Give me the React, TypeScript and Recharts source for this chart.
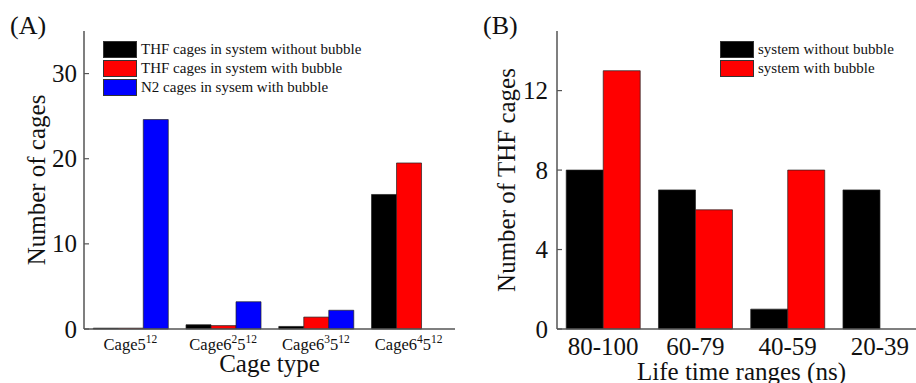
import React from "react";
import { BarChart, Bar, XAxis, YAxis, Legend } from "recharts";

// Panel A: cage types ("^{..}" marks a superscript)
const cageTypes = ["Cage5^{12}", "Cage6^{2}5^{12}", "Cage6^{3}5^{12}", "Cage6^{4}5^{12}"];
const cageSeries = ["THF cages in system without bubble", "THF cages in system with bubble", "N2 cages in sysem with bubble"];
const thfWithout = [0.1, 0.5, 0.3, 15.8];
const thfWith = [0.1, 0.4, 1.4, 19.5];
const n2With = [24.6, 3.2, 2.2, 0];
const cageTicks = [0, 10, 20, 30];

// Panel B: life time ranges
const lifeRanges = ["80-100", "60-79", "40-59", "20-39"];
const lifeSeries = ["system without bubble", "system with bubble"];
const lifeWithout = [8, 7, 1, 7];
const lifeWith = [13, 6, 8, 0];
const lifeTicks = [0, 4, 8, 12];

const SERIF = "'Liberation Serif', 'Times New Roman', serif";
const AXIS = "#555";
const INK = "#111";

const cageData = cageTypes.map((name, i) => ({
  name,
  thfWithout: thfWithout[i],
  thfWith: thfWith[i],
  n2With: n2With[i],
}));

const lifeData = lifeRanges.map((name, i) => ({
  name,
  without: lifeWithout[i],
  with: lifeWith[i],
}));

/** y tick: number left of the axis plus a short inward tick mark */
const makeYTick = (fontSize: number, margin: number) => (props: any) => {
  const { x, y, payload } = props;
  const ax = x + margin;
  return (
    <g>
      <line x1={ax} x2={ax + 5} y1={y} y2={y} stroke={AXIS} strokeWidth={1.2} />
      <text x={x} y={y} textAnchor="end" dominantBaseline="central" fontSize={fontSize} fontFamily={SERIF} fill={INK}>
        {payload.value}
      </text>
    </g>
  );
};

/** cage name with superscripts, e.g. Cage6^{2}5^{12} */
function CageTick(props: any) {
  const { x, y, payload } = props;
  const parts: string[] = String(payload.value).split(/(\^\{\d+\})/).filter(Boolean);
  let raised = false;
  return (
    <text x={x} y={y + 21} textAnchor="middle" fontSize={16.5} fontFamily={SERIF} fill={INK}>
      {parts.map((p, i) => {
        if (p.startsWith("^")) {
          raised = true;
          return (
            <tspan key={i} fontSize={11.5} dy={-7}>
              {p.slice(2, -1)}
            </tspan>
          );
        }
        const dy = raised ? 7 : 0;
        raised = false;
        return (
          <tspan key={i} dy={dy}>
            {p}
          </tspan>
        );
      })}
    </text>
  );
}

function RangeTick(props: any) {
  const { x, y, payload } = props;
  return (
    <text x={x} y={y + 26} textAnchor="middle" fontSize={25} fontFamily={SERIF} fill={INK}>
      {payload.value}
    </text>
  );
}

const yLabel = (text: string, dx: number) => (props: any) => {
  const { x, y, height } = props.viewBox;
  const cx = x + dx;
  const cy = y + height / 2;
  return (
    <text
      x={cx}
      y={cy}
      transform={`rotate(-90 ${cx} ${cy})`}
      textAnchor="middle"
      dominantBaseline="central"
      fontSize={25}
      fontFamily={SERIF}
      fill={INK}
    >
      {text}
    </text>
  );
};

// legend keeps the series order, not recharts' alphabetical one
const makeLegend = (order: string[]) => (props: any) => {
  const payload = [...(props.payload || [])].sort(
    (a: any, b: any) => order.indexOf(a.value) - order.indexOf(b.value)
  );
  return (
    <div style={{ fontFamily: SERIF, fontSize: 15, color: INK, whiteSpace: "nowrap" }}>
      {payload.map((e: any) => (
        <div key={e.value} style={{ display: "flex", alignItems: "center", height: 19 }}>
          <span
            style={{
              display: "inline-block",
              width: 34,
              height: 17,
              background: e.color,
              border: "1px solid #333",
              boxSizing: "border-box",
              marginRight: 4,
            }}
          />
          <span>{e.value}</span>
        </div>
      ))}
    </div>
  );
};

const barStroke = { stroke: "#222", strokeWidth: 0.7 };

export default function App() {
  return (
    <div
      style={{
        position: "absolute",
        left: 0,
        top: 0,
        width: 916,
        height: 383,
        overflow: "hidden",
        background: "#fff",
      }}
    >
      <div style={{ position: "absolute", left: 0, top: 0 }}>
        <BarChart
          width={460}
          height={383}
          data={cageData}
          margin={{ top: 31, right: 5, bottom: 0, left: 24 }}
          barGap={0}
          barCategoryGap="10%"
        >
          <XAxis
            dataKey="name"
            height={54}
            interval={0}
            tick={CageTick}
            tickLine={false}
            tickSize={0}
            tickMargin={0}
            axisLine={{ stroke: AXIS, strokeWidth: 1.5 }}
            label={{ value: "Cage type", position: "insideBottom", offset: 11, fontSize: 25, fontFamily: SERIF, fill: INK }}
          />
          <XAxis xAxisId="top" dataKey="name" orientation="top" height={0} tick={false} tickLine={false} axisLine={{ stroke: AXIS, strokeWidth: 1.5 }} />
          <YAxis
            width={60}
            domain={[0, 35]}
            ticks={cageTicks}
            tick={makeYTick(25, 7)}
            tickLine={false}
            tickSize={0}
            tickMargin={7}
            axisLine={{ stroke: AXIS, strokeWidth: 1.5 }}
            label={{ content: yLabel("Number of cages", 12.7) }}
          />
          <YAxis yAxisId="right" orientation="right" width={0} domain={[0, 35]} tick={false} tickLine={false} axisLine={{ stroke: AXIS, strokeWidth: 1.5 }} />
          <Legend
            layout="vertical"
            align="center"
            verticalAlign="middle"
            content={makeLegend(cageSeries)}
            wrapperStyle={{ top: 40, left: 103, width: "auto" }}
          />
          <Bar dataKey="thfWithout" name={cageSeries[0]} fill="#000000" {...barStroke} isAnimationActive={false} />
          <Bar dataKey="thfWith" name={cageSeries[1]} fill="#ff0000" {...barStroke} isAnimationActive={false} />
          <Bar dataKey="n2With" name={cageSeries[2]} fill="#0000ff" {...barStroke} isAnimationActive={false} />
        </BarChart>
      </div>

      <div style={{ position: "absolute", left: 460, top: 0 }}>
        <BarChart
          width={466}
          height={383}
          data={lifeData}
          margin={{ top: 31, right: 0, bottom: 0, left: 27 }}
          barGap={0}
          barCategoryGap="10%"
        >
          <XAxis
            dataKey="name"
            height={54}
            interval={0}
            tick={RangeTick}
            tickLine={false}
            tickSize={0}
            tickMargin={0}
            axisLine={{ stroke: AXIS, strokeWidth: 1.5 }}
            label={{ value: "Life time ranges (ns)", position: "insideBottom", offset: 3, fontSize: 25, fontFamily: SERIF, fill: INK }}
          />
          <XAxis xAxisId="top" dataKey="name" orientation="top" height={0} tick={false} tickLine={false} axisLine={{ stroke: AXIS, strokeWidth: 1.5 }} />
          <YAxis
            width={70}
            domain={[0, 15]}
            ticks={lifeTicks}
            tick={makeYTick(25, 9)}
            tickLine={false}
            tickSize={0}
            tickMargin={9}
            axisLine={{ stroke: AXIS, strokeWidth: 1.5 }}
            label={{ content: yLabel("Number of THF cages", 19.7) }}
          />
          <Legend
            layout="vertical"
            align="center"
            verticalAlign="middle"
            content={makeLegend(lifeSeries)}
            wrapperStyle={{ top: 40, left: 260, width: "auto" }}
          />
          <Bar dataKey="without" name={lifeSeries[0]} fill="#000000" {...barStroke} isAnimationActive={false} />
          <Bar dataKey="with" name={lifeSeries[1]} fill="#ff0000" {...barStroke} isAnimationActive={false} />
        </BarChart>
      </div>

      <svg width={916} height={383} style={{ position: "absolute", left: 0, top: 0, pointerEvents: "none" }}>
        <text x={10} y={34} fontSize={26} fontFamily={SERIF} fill={INK}>
          (A)
        </text>
        <text x={483} y={34} fontSize={26} fontFamily={SERIF} fill={INK}>
          (B)
        </text>
      </svg>
    </div>
  );
}
